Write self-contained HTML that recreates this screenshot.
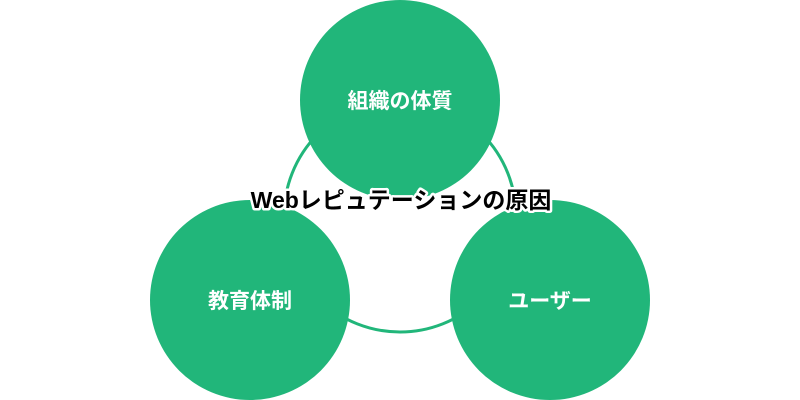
<!DOCTYPE html>
<html><head><meta charset="utf-8"><style>
html,body{margin:0;padding:0;background:#fff;}
body{width:800px;height:400px;overflow:hidden;position:relative;}
svg{position:absolute;left:0;top:0;}
</style></head><body>
<svg width="800" height="400" viewBox="0 0 800 400">
<circle cx="400" cy="216" r="116" fill="none" stroke="#21b67a" stroke-width="3"/>
<circle cx="400" cy="100" r="100" fill="#21b67a"/>
<circle cx="250" cy="300" r="100" fill="#21b67a"/>
<circle cx="550" cy="300" r="100" fill="#21b67a"/>
<g font-family="Liberation Sans, Noto Sans CJK JP, sans-serif" font-weight="bold" text-anchor="middle">
<text x="400" y="108" font-size="21" fill="#fff">組織の体質</text>
<text x="250" y="308" font-size="21" fill="#fff">教育体制</text>
<text x="550" y="308" font-size="21" fill="#fff">ユーザー</text>
<text x="401" y="208" font-size="23" fill="#000" stroke="#fff" stroke-width="5" paint-order="stroke" stroke-linejoin="round">Webレピュテーションの原因</text>
</g>
</svg>
</body></html>
